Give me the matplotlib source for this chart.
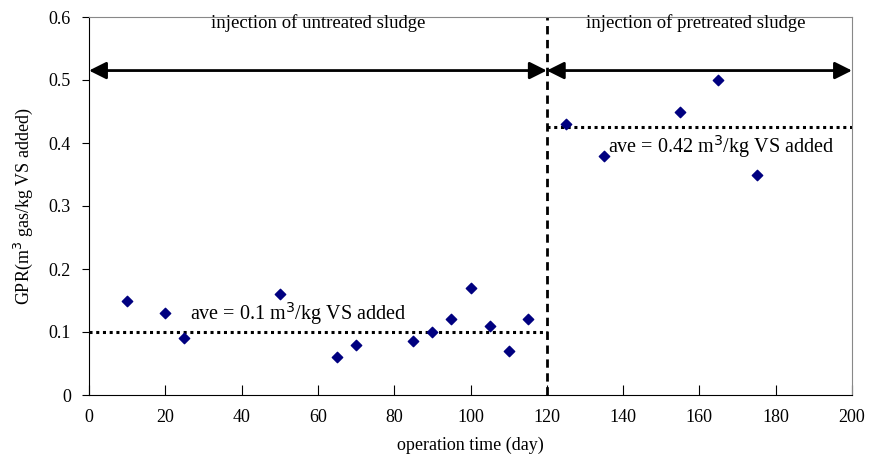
import matplotlib.pyplot as plt

plt.rcParams['font.family'] = ['Liberation Serif', 'DejaVu Serif']

# Data
untreated_days = [10, 20, 25, 50, 65, 70, 85, 90, 95, 100, 105, 110, 115]
untreated_gpr = [0.15, 0.13, 0.09, 0.16, 0.06, 0.08, 0.085, 0.10, 0.12, 0.17, 0.11, 0.07, 0.12]
pretreated_days = [125, 135, 155, 165, 175]
pretreated_gpr = [0.43, 0.38, 0.45, 0.50, 0.35]
ave_untreated = 0.1
ave_pretreated = 0.425
switch_day = 120

fig = plt.figure(figsize=(8.69, 4.72), dpi=100)
ax = fig.add_axes([89/869, 1 - 395/472, (852-89)/869, (395-17)/472])

ax.scatter(untreated_days + pretreated_days, untreated_gpr + pretreated_gpr,
           marker='D', s=28, color='#000080', zorder=3)

# average lines
ax.plot([0, switch_day], [ave_untreated, ave_untreated], color='black', lw=2.2, ls=(0, (1, 1.2)))
ax.plot([switch_day, 200], [ave_pretreated, ave_pretreated], color='black', lw=2.2, ls=(0, (1, 1.2)))

# divider
ax.plot([switch_day, switch_day], [0, 0.6], color='black', lw=2, ls=(0, (3, 2)))

# period arrows
arrow_y = 0.515
for x0, x1 in [(0, switch_day), (switch_day, 200)]:
    ax.annotate('', xy=(x1, arrow_y), xytext=(x0, arrow_y),
                arrowprops=dict(arrowstyle='<|-|>', color='black', lw=2,
                                mutation_scale=26, shrinkA=0, shrinkB=0))

ax.text(60, 0.59, 'injection of untreated sludge', ha='center', va='center', fontsize=13.5)
ax.text(159, 0.59, 'injection of pretreated sludge', ha='center', va='center', fontsize=13.5)
ax.text(26.5, 0.13, 'ave = 0.1 m$^3$/kg VS added', ha='left', va='center', fontsize=14.5)
ax.text(136, 0.395, 'ave = 0.42 m$^3$/kg VS added', ha='left', va='center', fontsize=14.5)

ax.set_xlim(0, 200)
ax.set_ylim(0, 0.6)
ax.set_xticks(range(0, 201, 20))
ax.set_yticks([0, 0.1, 0.2, 0.3, 0.4, 0.5, 0.6])
ax.set_yticklabels(['0', '0.1', '0.2', '0.3', '0.4', '0.5', '0.6'])
ax.tick_params(axis='x', direction='in', length=7, labelsize=13, pad=10)
ax.tick_params(axis='y', direction='out', length=5, labelsize=13, pad=8)
ax.spines['top'].set_color('#888888')
ax.spines['right'].set_color('#888888')
ax.set_xlabel('operation time (day)', fontsize=13, labelpad=8)
ax.set_ylabel('GPR(m$^3$ gas/kg VS added)', fontsize=13, labelpad=10)

fig.savefig('out.png', dpi=100)
